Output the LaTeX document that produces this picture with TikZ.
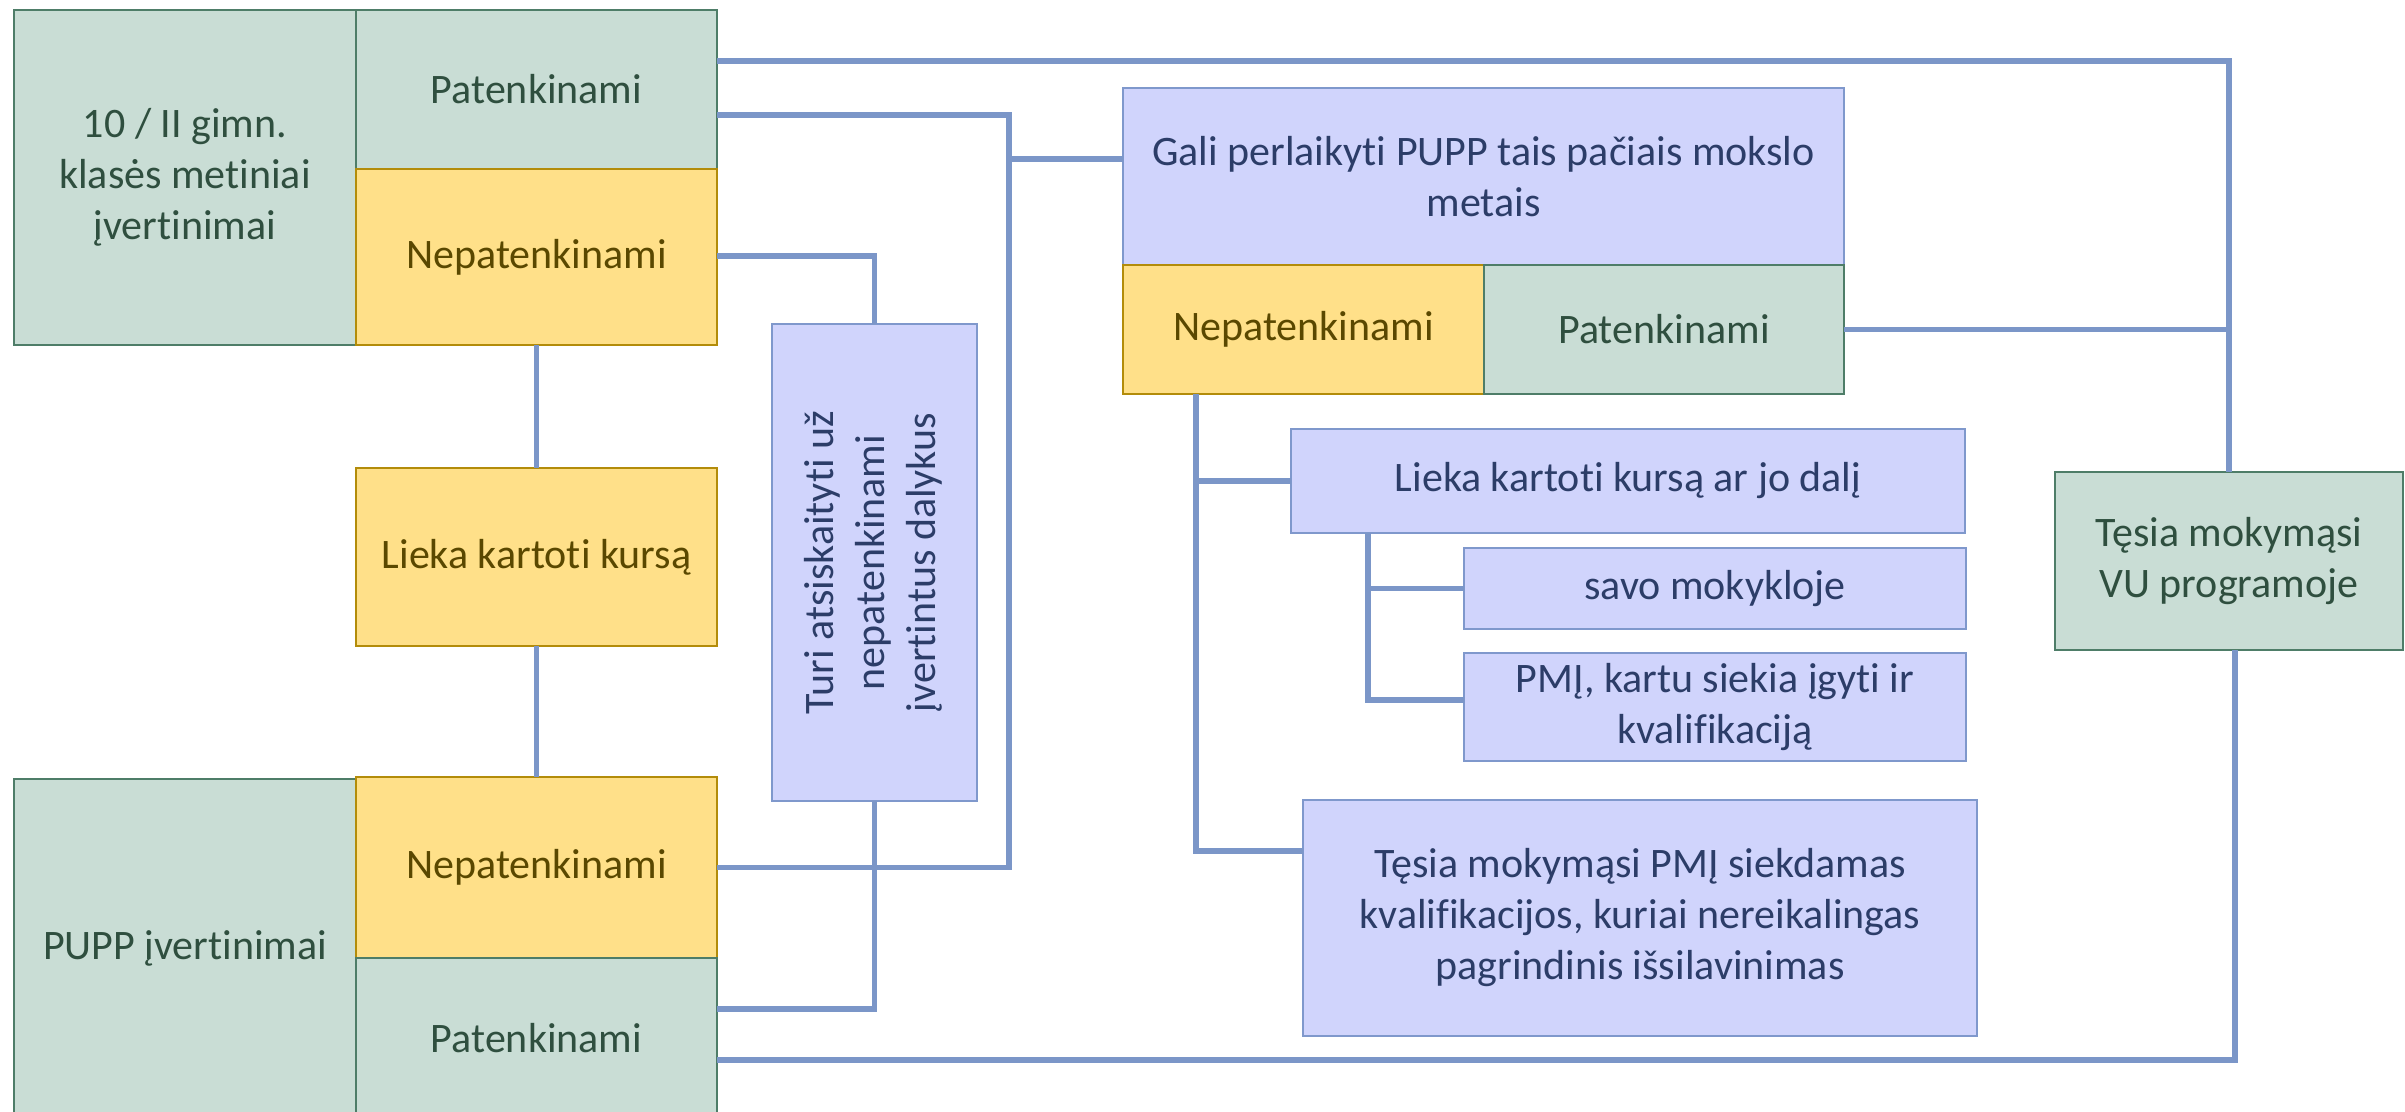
\documentclass[tikz,border=0pt]{standalone}
\usepackage{fontspec}
\setmainfont{Carlito}[Ligatures=CommonOff]
\definecolor{gfill}{HTML}{C9DDD5}
\definecolor{gline}{HTML}{4E7D68}
\definecolor{gtext}{HTML}{2F4F3F}
\definecolor{yfill}{HTML}{FFE089}
\definecolor{yline}{HTML}{B38C0A}
\definecolor{ytext}{HTML}{5A4800}
\definecolor{lfill}{HTML}{D0D4FC}
\definecolor{lline}{HTML}{7F98CC}
\definecolor{ltext}{HTML}{2C3D68}
\definecolor{lc}{HTML}{7B96C8}
\begin{document}
\begin{tikzpicture}[x=1pt,y=-1pt,
 basebx/.style={draw, line width=2.5pt, inner sep=0pt, outer sep=0pt, align=center, anchor=north west, font=\fontsize{42}{51}\selectfont},
 gbx/.style={basebx, fill=gfill, draw=gline, text=gtext},
 ybx/.style={basebx, fill=yfill, draw=yline, text=ytext},
 lbx/.style={basebx, fill=lfill, draw=lline, text=ltext},
 conn/.style={draw=lc, line width=5.5pt, line join=miter}]
\useasboundingbox (0,0) rectangle (2405,1111);
\clip (0,0) rectangle (2405,1111);
% left column
\node[gbx, minimum width=342pt, minimum height=335pt] (g10) at (14,10) {10 / II gimn.\\klasės metiniai\\įvertinimai};
\node[gbx, minimum width=361pt, minimum height=159pt] (pat1) at (356,10) {Patenkinami};
\node[ybx, minimum width=361pt, minimum height=176pt] (nepat1) at (356,169) {Nepatenkinami};
\node[ybx, minimum width=361pt, minimum height=178pt] (lieka1) at (356,468) {Lieka kartoti kursą};
\node[gbx, minimum width=342pt, minimum height=338pt] (pupp) at (14,779) {PUPP įvertinimai};
\node[ybx, minimum width=361pt, minimum height=181pt] (nepat3) at (356,777) {Nepatenkinami};
\node[gbx, minimum width=361pt, minimum height=160pt] (pat3) at (356,958) {Patenkinami};
% middle
\node[lbx, minimum width=205pt, minimum height=477pt] (turi) at (772,324) {\rotatebox{90}{\begin{tabular}{@{}c@{}}Turi atsiskaityti už\\nepatenkinami\\įvertintus dalykus\end{tabular}}};
\node[lbx, minimum width=721pt, minimum height=177pt] (gali) at (1123,88) {Gali perlaikyti PUPP tais pačiais mokslo\\metais};
\node[ybx, minimum width=361pt, minimum height=129pt] (nepat2) at (1123,265) {Nepatenkinami};
\node[gbx, minimum width=360pt, minimum height=129pt] (pat2) at (1484,265) {Patenkinami};
\node[lbx, minimum width=674pt, minimum height=104pt] (lieka2) at (1291,429) {Lieka kartoti kursą ar jo dalį};
\node[lbx, minimum width=502pt, minimum height=81pt] (savo) at (1464,548) {savo mokykloje};
\node[lbx, minimum width=502pt, minimum height=108pt] (pmj) at (1464,653) {PMĮ, kartu siekia įgyti ir\\kvalifikaciją};
\node[lbx, minimum width=674pt, minimum height=236pt] (tesia2) at (1303,800) {Tęsia mokymąsi PMĮ siekdamas\\kvalifikacijos, kuriai nereikalingas\\pagrindinis išsilavinimas};
\node[gbx, minimum width=348pt, minimum height=178pt] (vu) at (2055,472) {Tęsia mokymąsi\\VU programoje};
% bus coordinates
\coordinate (busA) at (1009,0);
\coordinate (busB) at (1196,0);
\coordinate (busC) at (1368,0);
% connectors
\draw[conn] (pat1.east |- 0,61) -| (vu.north);
\draw[conn] (pat1.east |- 0,115) -| (busA |- nepat3.east) -- (nepat3.east);
\draw[conn] (busA |- 0,159) -- (gali.west |- 0,159);
\draw[conn] (nepat1.east |- 0,256) -| (turi.north);
\draw[conn] (turi.south) |- (pat3.east |- 0,1009);
\draw[conn] (nepat1.south) -- (lieka1.north);
\draw[conn] (lieka1.south) -- (nepat3.north);
\draw[conn] (pat2.east) -- (vu.north |- pat2.east);
\draw[conn] (busB |- nepat2.south) |- (tesia2.west |- 0,851);
\draw[conn] (busB |- lieka2.west) -- (lieka2.west);
\draw[conn] (busC |- lieka2.south) |- (pmj.west |- 0,700);
\draw[conn] (busC |- savo.west) -- (savo.west);
\draw[conn] (pat3.east |- 0,1060) -| ([xshift=6pt]vu.south);
\end{tikzpicture}
\end{document}
